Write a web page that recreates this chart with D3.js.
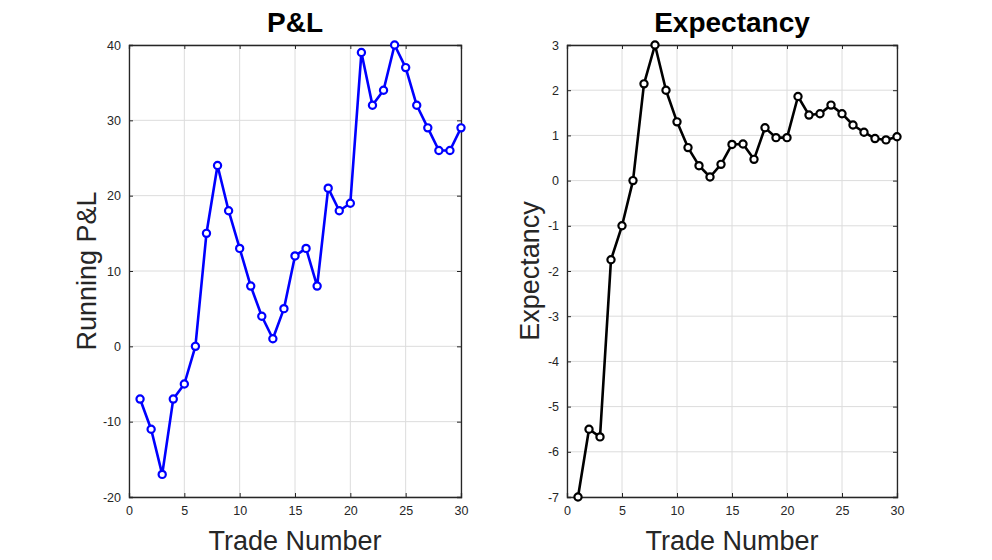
<!DOCTYPE html>
<html>
<head>
<meta charset="utf-8">
<script src="https://cdn.jsdelivr.net/npm/d3@7"></script>
<style>
  body { margin: 0; background: #fff; }
  svg text { font-family: "Liberation Sans", Arial, Helvetica, sans-serif; }
</style>
</head>
<body>
<div id="chart"></div>
<script>
// Data
const tradeNumbers = [1,2,3,4,5,6,7,8,9,10,11,12,13,14,15,16,17,18,19,20,21,22,23,24,25,26,27,28,29,30];
const runningPnl = [-7,-11,-17,-7,-5,0,15,24,18,13,8,4,1,5,12,13,8,21,18,19,39,32,34,40,37,32,29,26,26,29];
const expectancy = [-7,-5.5,-5.67,-1.75,-1,0,2.14,3,2,1.3,0.73,0.33,0.08,0.36,0.8,0.81,0.47,1.17,0.95,0.95,1.86,1.45,1.48,1.67,1.48,1.23,1.07,0.93,0.9,0.97];
const xTicks = [0,5,10,15,20,25,30];
const pnlTicks = [-20,-10,0,10,20,30,40];
const expTicks = [-7,-6,-5,-4,-3,-2,-1,0,1,2,3];

const width = 992, height = 560;
const svg = d3.select("#chart")
  .append("svg")
    .attr("width", width)
    .attr("height", height);

// one panel = one MATLAB-style axes
function drawPanel(opts) {
  const x = d3.scaleLinear().domain([0, 30]).range([opts.left, opts.right]);
  const y = d3.scaleLinear().domain(opts.yDomain).range([opts.bottom, opts.top]);
  const g = svg.append("g");

  // grid
  g.append("g")
    .selectAll("line.vx")
    .data(xTicks)
    .join("line")
      .attr("x1", d => x(d)).attr("x2", d => x(d))
      .attr("y1", opts.top).attr("y2", opts.bottom)
      .attr("stroke", "#dcdcdc").attr("stroke-width", 1);
  g.append("g")
    .selectAll("line.hy")
    .data(opts.yTicks)
    .join("line")
      .attr("x1", opts.left).attr("x2", opts.right)
      .attr("y1", d => y(d)).attr("y2", d => y(d))
      .attr("stroke", "#dcdcdc").attr("stroke-width", 1);

  // axes with inward ticks, on all four sides
  const tickLen = 4;
  const axB = g.append("g").attr("transform", `translate(0,${opts.bottom})`)
    .call(d3.axisBottom(x).tickValues(xTicks).tickSize(-tickLen).tickPadding(9));
  const axT = g.append("g").attr("transform", `translate(0,${opts.top})`)
    .call(d3.axisTop(x).tickValues(xTicks).tickSize(-tickLen).tickFormat(""));
  const axL = g.append("g").attr("transform", `translate(${opts.left},0)`)
    .call(d3.axisLeft(y).tickValues(opts.yTicks).tickSize(-tickLen).tickPadding(8).tickFormat(d3.format("d")));
  const axR = g.append("g").attr("transform", `translate(${opts.right},0)`)
    .call(d3.axisRight(y).tickValues(opts.yTicks).tickSize(-tickLen).tickFormat(""));
  [axB, axT, axL, axR].forEach(a => {
    a.select(".domain").attr("stroke", "#262626").attr("stroke-width", 1.3);
    a.selectAll(".tick line").attr("stroke", "#262626");
    a.selectAll("text").attr("fill", "#262626").style("font-size", "12.5px")
      .style("font-family", "'Liberation Sans', Arial, sans-serif");
  });
  axL.selectAll("text").text(d => d < 0 ? "-" + Math.abs(d) : d);

  // series line + markers
  const pts = tradeNumbers.map((t, i) => ({ t: t, v: opts.values[i] }));
  g.append("path")
    .datum(pts)
    .attr("fill", "none")
    .attr("stroke", opts.color)
    .attr("stroke-width", 2.6)
    .attr("stroke-linejoin", "round")
    .attr("d", d3.line().x(d => x(d.t)).y(d => y(d.v)));
  g.selectAll("circle")
    .data(pts)
    .join("circle")
      .attr("cx", d => x(d.t))
      .attr("cy", d => y(d.v))
      .attr("r", 3.6)
      .attr("fill", "#fff")
      .attr("stroke", opts.color)
      .attr("stroke-width", 2.2);

  // title and labels
  const cx = (opts.left + opts.right) / 2;
  g.append("text")
    .attr("x", cx).attr("y", 32)
    .attr("text-anchor", "middle")
    .style("font-size", "28px").style("font-weight", "bold")
    .attr("fill", "#000")
    .text(opts.title);
  g.append("text")
    .attr("x", cx).attr("y", 550)
    .attr("text-anchor", "middle")
    .style("font-size", "27px")
    .attr("fill", "#262626")
    .text("Trade Number");
  g.append("text")
    .attr("transform", `translate(${opts.ylabelX},${(opts.top + opts.bottom) / 2}) rotate(-90)`)
    .attr("text-anchor", "middle")
    .style("font-size", "27px")
    .attr("fill", "#262626")
    .text(opts.ylabel);
}

drawPanel({
  left: 129, right: 461, top: 45, bottom: 497,
  yDomain: [-20, 40], yTicks: pnlTicks, values: runningPnl,
  color: "#0000ff", title: "P&L", ylabel: "Running P&L", ylabelX: 96
});

drawPanel({
  left: 567, right: 897, top: 45, bottom: 497,
  yDomain: [-7, 3], yTicks: expTicks, values: expectancy,
  color: "#000000", title: "Expectancy", ylabel: "Expectancy", ylabelX: 539
});
</script>
</body>
</html>
